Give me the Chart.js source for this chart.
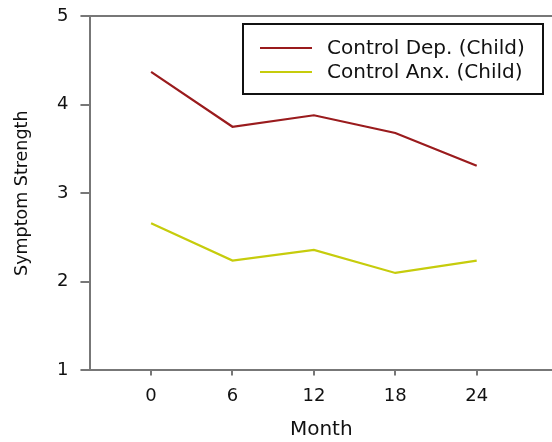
<!DOCTYPE html>
<html>
<head>
<meta charset="utf-8">
<script src="https://cdn.jsdelivr.net/npm/chart.js@4"></script>
<style>
  html, body { margin: 0; padding: 0; background: #fff; }
  #wrap { width: 552px; height: 442px; }
</style>
</head>
<body>
<div id="wrap"><canvas id="myChart"></canvas></div>
<script>
// data
var months = [0, 6, 12, 18, 24]
var depChild = [4.37, 3.75, 3.88, 3.68, 3.31]
var anxChild = [2.66, 2.24, 2.36, 2.10, 2.24]
var yTicks = [1, 2, 3, 4, 5]
var seriesLabels = ['Control Dep. (Child)', 'Control Anx. (Child)']
var cores = ['#9a1b1d', '#c6cc0c']

var font = 'DejaVu Sans, Verdana, sans-serif'
var axisGray = '#777'

function toPoints(vals){
    return vals.map((v, i) => ({x: months[i], y: v}))
}

// legend box like the original (drawn by hand, not the chart.js legend)
var boxLegend = {
    id: 'boxLegend',
    afterDraw(chart){
        var ctx = chart.ctx
        ctx.save()
        ctx.strokeStyle = '#111'
        ctx.lineWidth = 2
        ctx.strokeRect(243, 24, 300, 70)
        ctx.font = '20px ' + font
        ctx.textBaseline = 'middle'
        chart.data.datasets.forEach((ds, i) => {
            var y = 48 + i * 24
            ctx.strokeStyle = ds.borderColor
            ctx.lineWidth = 2
            ctx.beginPath()
            ctx.moveTo(260, y)
            ctx.lineTo(312, y)
            ctx.stroke()
            ctx.fillStyle = '#111'
            ctx.fillText(ds.label, 327, y + 1)
        })
        ctx.restore()
    }
}

const ctx = document.getElementById('myChart')

var myChart = new Chart(ctx, {
    type: 'line',
    data: {
        datasets: [
            {label: seriesLabels[0], data: toPoints(depChild), borderColor: cores[0], borderWidth: 2.2, pointRadius: 0, tension: 0},
            {label: seriesLabels[1], data: toPoints(anxChild), borderColor: cores[1], borderWidth: 2.2, pointRadius: 0, tension: 0}
        ]
    },
    options: {
        responsive: true,
        maintainAspectRatio: false,
        animation: false,
        layout: {padding: {top: 0, left: 4, right: 0, bottom: 0}},
        plugins: {
            legend: {display: false},
            tooltip: {enabled: false}
        },
        scales: {
            x: {
                type: 'linear',
                min: -4.47,
                max: 29.55,
                afterBuildTicks: (axis) => { axis.ticks = months.map(m => ({value: m})) },
                grid: {drawOnChartArea: false, tickLength: 5, tickColor: axisGray, lineWidth: 2},
                border: {display: false},
                ticks: {color: '#111', font: {family: font, size: 18}, padding: 10},
                title: {display: true, text: 'Month', color: '#111', font: {family: font, size: 20}, padding: {top: 1, bottom: 0}}
            },
            y: {
                min: 1,
                max: 5,
                afterBuildTicks: (axis) => { axis.ticks = yTicks.map(v => ({value: v})) },
                grid: {
                    drawOnChartArea: true,
                    color: (c) => (c.tick && (c.tick.value === 1 || c.tick.value === 5)) ? axisGray : 'rgba(0,0,0,0)',
                    tickColor: axisGray,
                    tickLength: 10,
                    lineWidth: 2
                },
                border: {display: true, color: axisGray, width: 2},
                ticks: {color: '#111', font: {family: font, size: 18, lineHeight: 0.45}, padding: 12},
                title: {display: true, text: 'Symptom Strength', color: '#111', font: {family: font, size: 17.5}, padding: {top: 8, bottom: 12}}
            }
        }
    },
    plugins: [boxLegend]
})
</script>
</body>
</html>
